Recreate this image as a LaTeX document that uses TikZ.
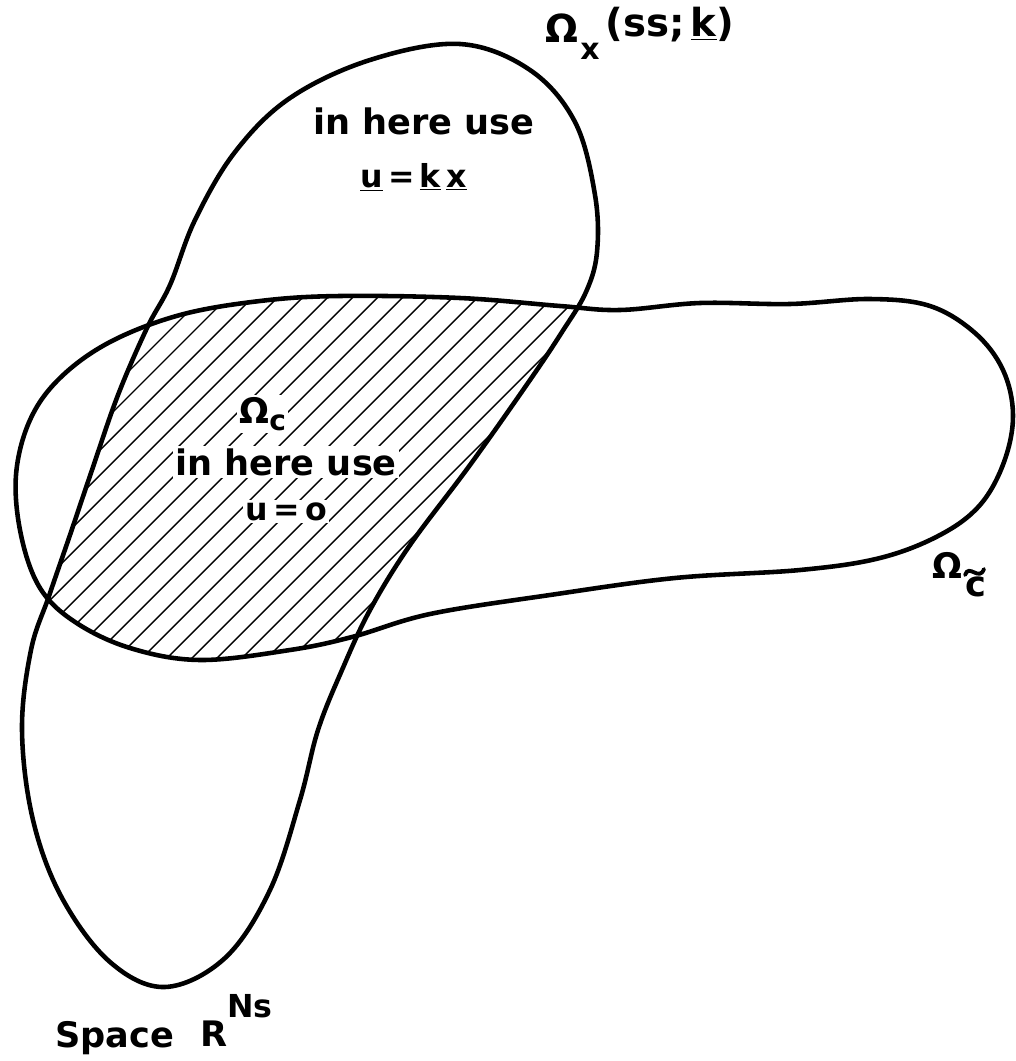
\documentclass[tikz,border=0pt]{standalone}
\usepackage{fontspec}
\setmainfont{DejaVu Sans}
\newcommand\shapeX{plot[smooth cycle, tension=0.6] coordinates {(460,44) (530,70) (575,122) (595,195) (597,252) (586,292) (562,332) (530,380) (470,465) (410,545) (370,610) (342,670) (318,730) (300,800) (270,890) (225,958) (165,987) (110,962) (62,898) (33,820) (22,730) (31,650) (49,596) (70,535) (92,470) (118,395) (147,328) (170,285) (195,220) (235,152) (290,98) (370,60)}}
\newcommand\shapeC{plot[smooth cycle, tension=0.6] coordinates {(260,301) (340,296) (460,298) (560,306) (620,310) (700,303) (790,304) (870,299) (930,306) (975,333) (1003,370) (1013,415) (1004,462) (980,505) (940,535) (880,558) (800,570) (675,578) (550,595) (430,614) (352,637) (290,650) (200,660) (130,648) (75,622) (40,588) (21,535) (16,475) (30,420) (60,378) (110,342) (180,315)}}
\tikzset{
  outline/.style={line width=2.6pt, line join=round},
  hatchline/.style={line width=0.8pt},
  accentline/.style={line width=2.2pt, line cap=round},
  lbl/.style={font=\fontsize{20}{24}\selectfont\bfseries, inner sep=0pt, anchor=base west},
  gap/.style={fill=white, inner sep=1.2pt},
}
\begin{document}
\begin{tikzpicture}[x=0.02cm, y=-0.02cm]
\useasboundingbox (0,0) rectangle (1015,1061);
% hatched intersection
\begin{scope}
  \clip \shapeX;
  \clip \shapeC;
  \foreach \c in {350,375,...,1050} {
    \draw[hatchline] ({\c-700},700) -- ({\c-250},250);
  }
\end{scope}
% labels inside hatched region
\node[lbl, gap] (omc) at (237,423) {Ω\raisebox{-4pt}{\fontsize{16}{16}\selectfont c}};
\node[lbl, gap] (inB) at (173,475) {in here use};
\node[lbl, gap, font=\fontsize{18}{22}\selectfont\bfseries] (uo) at (243,520) {u\,=\,o};
% outlines
\draw[outline] \shapeX;
\draw[outline] \shapeC;
% other labels
\node[lbl] (inA) at (313,134) {in here use};
\node[lbl, font=\fontsize{18}{22}\selectfont\bfseries] (ukx) at (360,187) {\underline{u}\,=\,\underline{k}\,\underline{x}};
\node[lbl, font=\fontsize{22}{26}\selectfont\bfseries] (omx) at (545,43) {Ω};
\node[lbl, font=\fontsize{17}{20}\selectfont\bfseries] (subx) at (580,60) {x};
\node[lbl, font=\fontsize{22}{26}\selectfont\bfseries] (ssk) at (605,37) {(ss;\,\underline{k})};
\node[lbl] (omct) at (932,578) {Ω\hspace{2pt}\raisebox{-10.8pt}{c}};
% tilde accent over the subscript c
\draw[accentline] (965,575) .. controls (969,563) and (979,582) .. (984,569);
\node[lbl] (space) at (55,1047) {Space};
\node[lbl] (rr) at (200,1046) {R};
\node[lbl, font=\fontsize{18}{22}\selectfont\bfseries] (ns) at (227,1017) {Ns};
\end{tikzpicture}
\end{document}
